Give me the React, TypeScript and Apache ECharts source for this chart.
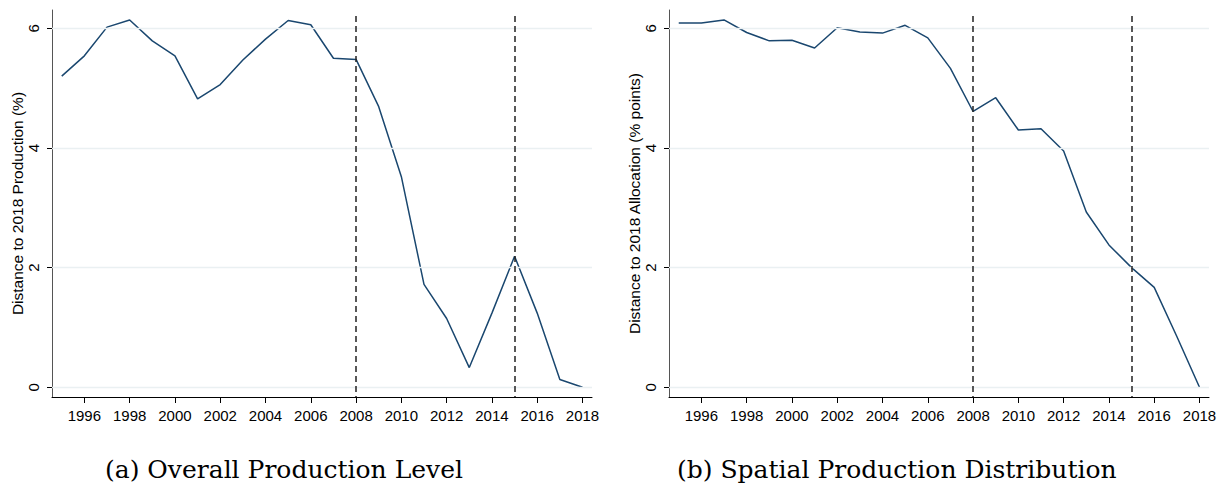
import React, { useEffect, useRef } from "react";
import * as echarts from "echarts";

const years = [1995, 1996, 1997, 1998, 1999, 2000, 2001, 2002, 2003, 2004, 2005, 2006, 2007, 2008, 2009, 2010, 2011, 2012, 2013, 2014, 2015, 2016, 2017, 2018];
const productionLevel = [5.20, 5.54, 6.02, 6.14, 5.79, 5.54, 4.82, 5.06, 5.47, 5.82, 6.13, 6.06, 5.50, 5.48, 4.69, 3.52, 1.72, 1.15, 0.33, 1.24, 2.19, 1.24, 0.13, 0.0];
const allocationDistance = [6.09, 6.09, 6.14, 5.93, 5.79, 5.80, 5.67, 6.01, 5.94, 5.92, 6.05, 5.84, 5.33, 4.61, 4.84, 4.30, 4.32, 3.95, 2.93, 2.38, 2.00, 1.67, 0.85, 0.0];
const xTicks = [1996, 1998, 2000, 2002, 2004, 2006, 2008, 2010, 2012, 2014, 2016, 2018];
const yTicks = [0, 2, 4, 6];
const policyYears = [2008, 2015];
const yNames = ["Distance to 2018 Production (%)", "Distance to 2018 Allocation (% points)"];
const captions = ["(a) Overall Production Level", "(b) Spatial Production Distribution"];

const X_MIN = 1994.57;
const X_MAX = 2018.42;
const Y_MIN = -0.162;
const Y_MAX = 6.306;
const DASH_TOP = 6.205;

const SANS = "'Liberation Sans', Arial, sans-serif";
const SERIF = "'DejaVu Serif', serif";

export default function App() {
  const ref = useRef<HTMLDivElement>(null);

  useEffect(() => {
    if (!ref.current) return;
    const chart = echarts.init(ref.current, undefined, { renderer: "svg" });

    const panels = [productionLevel, allocationDistance];
    const grids = [
      { left: 52, top: 10, width: 540, height: 387 },
      { left: 669, top: 10, width: 540, height: 387 },
    ];
    const captionX = [105, 677];

    const xAxis = panels.map((_, i) => ({
      type: "value",
      gridIndex: i,
      min: X_MIN,
      max: X_MAX,
      axisLine: { show: true, onZero: false, lineStyle: { color: "#000", width: 1 } },
      axisTick: { show: true, customValues: xTicks, length: 6, lineStyle: { color: "#000", width: 1 } },
      axisLabel: {
        show: true,
        customValues: xTicks,
        margin: 11,
        fontSize: 15,
        color: "#000",
        fontFamily: SANS,
        formatter: (v: number) => String(Math.round(v)),
      },
      splitLine: { show: false },
    }));

    const yAxis = panels.map((_, i) => ({
      type: "value",
      gridIndex: i,
      min: Y_MIN,
      max: Y_MAX,
      name: yNames[i],
      nameLocation: "middle",
      nameGap: i === 0 ? 27 : 25,
      nameTextStyle: { fontSize: 15.5, color: "#000", fontFamily: SANS },
      axisLine: { show: true, onZero: false, lineStyle: { color: "#555", width: 1 } },
      axisTick: { show: true, customValues: yTicks, length: 5, lineStyle: { color: "#000", width: 1 } },
      axisLabel: {
        show: true,
        customValues: yTicks,
        rotate: 90,
        margin: 11,
        fontSize: 15,
        color: "#000",
        fontFamily: SANS,
        formatter: (v: number) => String(Math.round(v)),
      },
      splitLine: { show: false },
    }));

    const series: any[] = [];
    panels.forEach((values, i) => {
      series.push({
        type: "line",
        xAxisIndex: i,
        yAxisIndex: i,
        data: [],
        z: 1,
        silent: true,
        markLine: {
          silent: true,
          symbol: ["none", "none"],
          label: { show: false },
          lineStyle: { color: "#eaf0f2", width: 1.3, type: "solid" },
          data: yTicks.map((v) => ({ yAxis: v })),
        },
      });
      series.push({
        type: "line",
        xAxisIndex: i,
        yAxisIndex: i,
        data: years.map((y, k) => [y, values[k]]),
        showSymbol: false,
        symbol: "none",
        z: 3,
        lineStyle: { color: "#1a476f", width: 1.5 },
      });
      series.push({
        type: "line",
        xAxisIndex: i,
        yAxisIndex: i,
        data: [],
        z: 4,
        silent: true,
        markLine: {
          silent: true,
          symbol: ["none", "none"],
          label: { show: false },
          lineStyle: { color: "#222", width: 1.5, type: [6, 4] },
          data: policyYears.map((y) => [{ coord: [y, DASH_TOP] }, { coord: [y, Y_MIN] }]),
        },
      });
    });

    const graphic = captions.map((t, i) => ({
      type: "text",
      x: captionX[i],
      y: 469,
      style: {
        text: t,
        fontSize: 25,
        fontFamily: SERIF,
        fill: "#000",
        align: "left",
        verticalAlign: "middle",
        textAlign: "left",
        textVerticalAlign: "middle",
      },
    }));

    chart.setOption({
      animation: false,
      backgroundColor: "#fff",
      grid: grids,
      xAxis,
      yAxis,
      series,
      graphic,
    });

    return () => chart.dispose();
  }, []);

  return <div ref={ref} style={{ position: "absolute", left: 0, top: 0, width: 1225, height: 489 }} />;
}
